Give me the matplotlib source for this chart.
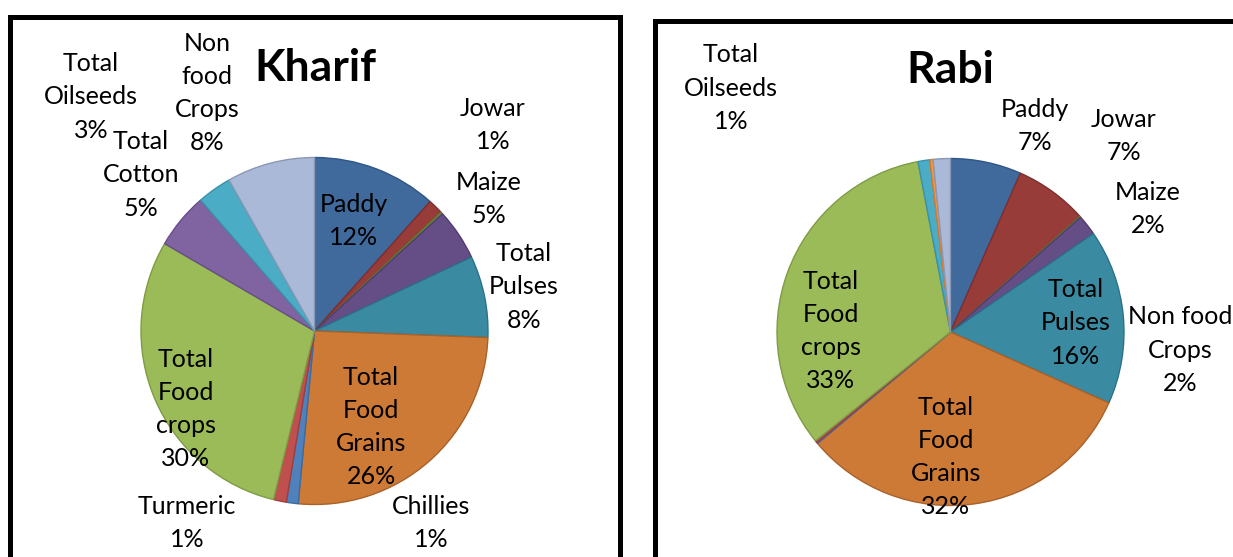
import matplotlib.pyplot as plt
from matplotlib.patches import Rectangle

plt.rcParams['font.family'] = ['Lato', 'DejaVu Sans']

# crop categories (same order in both seasons, clockwise from the top)
crops = ['Paddy', 'Jowar', 'Bajra', 'Maize', 'Total Pulses', 'Total Food Grains',
         'Chillies', 'Turmeric', 'Total Food crops', 'Total Cotton',
         'Total Oilseeds', 'Others', 'Non food Crops']

# share of area, percent
kharif = [11.6, 1.4, 0.2, 4.8, 7.6, 25.9, 1.1, 1.2, 29.6, 5.2, 3.2, 0.0, 8.2]
rabi = [6.6, 6.8, 0.1, 1.9, 16.3, 32.2, 0.1, 0.2, 32.8, 0.0, 1.1, 0.3, 1.6]

# label text as wrapped on the chart ('' = no label)
kharif_names = ['Paddy', 'Jowar', '', 'Maize', 'Total\nPulses', 'Total\nFood\nGrains',
                'Chillies', 'Turmeric', 'Total\nFood\ncrops', 'Total\nCotton',
                'Total\nOilseeds', '', 'Non\nfood\nCrops']
rabi_names = ['Paddy', 'Jowar', '', 'Maize', 'Total\nPulses', 'Total\nFood\nGrains',
              '', '', 'Total\nFood\ncrops', '', 'Total\nOilseeds', '', 'Non food\nCrops']

colors = ['#40699C', '#983C3A', '#77933C', '#654E86', '#3A8BA2', '#CD7A37',
          '#4F81BD', '#C0504D', '#9BBB59', '#8064A2', '#4BACC6', '#F79646', '#AAB9D7']
edges = ['#2F5688', '#7E2E2C', '#5E7A2C', '#4F3C6E', '#2A7289', '#A8612A',
         '#3C6AA2', '#A03E3B', '#7E9C44', '#674E88', '#3A92AA', '#D67A30', '#8A98B5']

W, H = 1233, 557
R = 173.5  # pie radius in px

# label positions (px in the picture, text centre)
kharif_pos = [(354, 221), (493, 125), None, (489, 199), (524, 287), (371, 427),
              (431, 523), (187, 523), (186, 409), (141, 175), (91, 97), None, (207, 93)]
rabi_pos = [(1035, 126), (1124, 136), None, (1148, 209), (1076, 323), (946, 457),
            None, None, (831, 331), None, (731, 88), None, (1180, 350)]

fig = plt.figure(figsize=(W / 100, H / 100), dpi=100)


def draw(vals, names, pos, title, cx, cy, title_xy):
    ax = fig.add_axes([0, 0, 1, 1])
    wedges, _ = ax.pie(vals, colors=colors, startangle=90, counterclock=False,
                       wedgeprops=dict(linewidth=1.0))
    for w, e, v in zip(wedges, edges, vals):
        w.set_edgecolor(e)
        if v == 0:
            w.set_visible(False)
    ax.set_aspect('auto')
    ax.set_xlim(-cx / R, (W - cx) / R)
    ax.set_ylim(-(H - cy) / R, cy / R)
    ax.axis('off')
    for v, n, p in zip(vals, names, pos):
        if not n or p is None:
            continue
        ax.text((p[0] - cx) / R, (cy - p[1]) / R, '%s\n%d%%' % (n, round(v)),
                ha='center', va='center', fontsize=18, linespacing=1.54,
                color='black')
    ax.text((title_xy[0] - cx) / R, (cy - title_xy[1]) / R, title, ha='center',
            va='center', fontsize=32, fontweight='bold', color='black')


draw(kharif, kharif_names, kharif_pos, 'Kharif', 314.5, 331, (315, 68))
draw(rabi, rabi_names, rabi_pos, 'Rabi', 950.5, 332, (950, 70))

# panel borders
fig.add_artist(Rectangle((9.7 / W, -0.1), (619.5 - 9.7) / W, 1.1 - 16.5 / H,
                         transform=fig.transFigure, fill=False, lw=3.6,
                         edgecolor='black', joinstyle='miter'))
fig.add_artist(Rectangle((655 / W, -0.1), 0.5, 1.1 - 20.5 / H,
                         transform=fig.transFigure, fill=False, lw=3.6,
                         edgecolor='black', joinstyle='miter'))

fig.savefig('out.png', dpi=100)
